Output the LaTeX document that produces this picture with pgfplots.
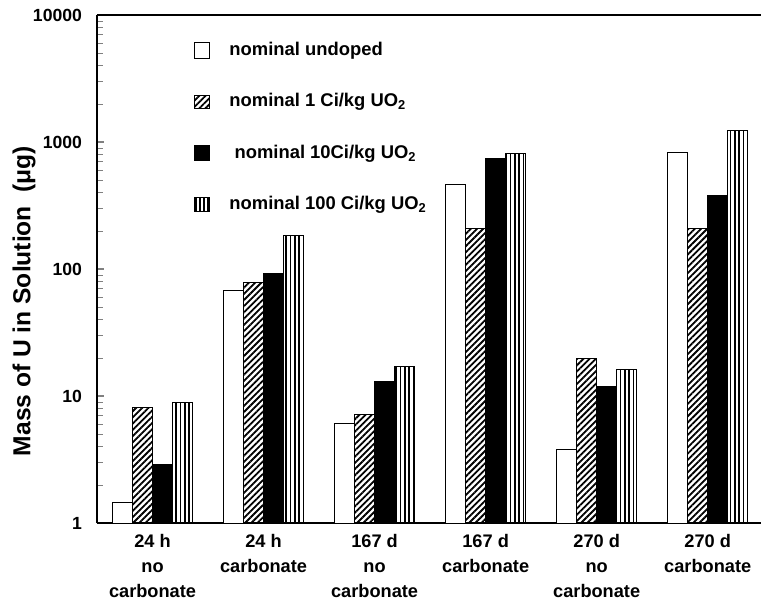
\documentclass[border=0pt]{standalone}
\usepackage{pgfplots}
\pgfplotsset{compat=1.18}
\usepackage{fontspec}
\setmainfont{Liberation Sans}
\usetikzlibrary{patterns.meta}
\pgfplotstableread{
x undoped one ten hundred
0 1.44 8.05 2.9 8.97
1 68 78 93 182
2 6.1 7.1 13.1 17.2
3 459 210 748 819
4 3.76 19.9 11.8 16.3
5 830 207 376 1243
}\datatable
\begin{document}
\begin{tikzpicture}
\begin{axis}[
  scale only axis,
  width=332pt, height=254pt,
  ymode=log, ymin=1, ymax=10000,
  xmin=-0.5, xmax=5.48,
  axis x line=box, axis y line=left,
  y axis line style={-},
  axis line style={line width=1pt},
  ybar=0pt, bar width=10pt,
  xtick=data,
  xticklabels={{24 h\\no\\carbonate},{24 h\\carbonate},{167 d\\no\\carbonate},{167 d\\carbonate},{270 d\\no\\carbonate},{270 d\\carbonate}},
  xticklabel style={align=center, font=\bfseries\fontsize{9.1}{12.5}\selectfont, yshift=-2pt},
  major x tick style={draw=none},
  ytick={1,10,100,1000,10000},
  yticklabels={1,10,100,1000,10000},
  yticklabel style={font=\bfseries\fontsize{8.8}{10}\selectfont, xshift=-4pt},
  minor ytick={},
  tick align=inside,
  major tick length=3.5pt,
  major y tick style={line width=1pt},
  ylabel={Mass of U in Solution\ \ (μg)},
  ylabel style={at={(axis description cs:-0.11,0.437)}, anchor=center, font=\bfseries\fontsize{12.3}{14}\selectfont},
  legend style={at={(axis description cs:0.145,0.955)}, anchor=north west, draw=none, fill=none,
     row sep=13.5pt, font=\bfseries\fontsize{9.2}{11}\selectfont, inner sep=0pt,
     /tikz/every odd column/.append style={column sep=7.5pt}},
  legend cell align=left,
  clip=false,
]
\addplot[draw=black, line width=0.5pt, fill=white,
  legend image code/.code={\draw[draw=black,line width=0.5pt,fill=white] (0pt,-3.8pt) rectangle (7.6pt,3.8pt);}]
  table[x=x,y=undoped]{\datatable};
\addlegendentry{nominal undoped}
\addplot[draw=black, line width=0.5pt, pattern={Lines[angle=45,distance=2.2pt,line width=0.9pt]},
  legend image code/.code={\draw[draw=black,line width=0.5pt,pattern={Lines[angle=45,distance=2.2pt,line width=0.9pt]}] (0pt,-3.3pt) rectangle (7.6pt,3.3pt);}]
  table[x=x,y=one]{\datatable};
\addlegendentry{nominal 1 Ci/kg UO\textsubscript{2}}
\addplot[draw=black, line width=0.5pt, fill=black,
  legend image code/.code={\draw[draw=black,line width=0.5pt,fill=black] (0pt,-3.8pt) rectangle (7.6pt,3.8pt);}]
  table[x=x,y=ten]{\datatable};
\addlegendentry{\ nominal 10Ci/kg UO\textsubscript{2}}
\addplot[draw=black, line width=0.5pt, pattern={Lines[angle=90,distance=2.2pt,line width=0.8pt]},
  legend image code/.code={\draw[draw=black,line width=0.5pt,pattern={Lines[angle=90,distance=2pt,line width=0.8pt]}] (0pt,-3.3pt) rectangle (7.6pt,3.3pt);}]
  table[x=x,y=hundred]{\datatable};
\addlegendentry{nominal 100 Ci/kg UO\textsubscript{2}}
\end{axis}
\pgfresetboundingbox
\path[use as bounding box] (current axis.south west) ++(-48.5pt,-38.5pt) rectangle ++(380.5pt,300pt);
\end{tikzpicture}
\end{document}
